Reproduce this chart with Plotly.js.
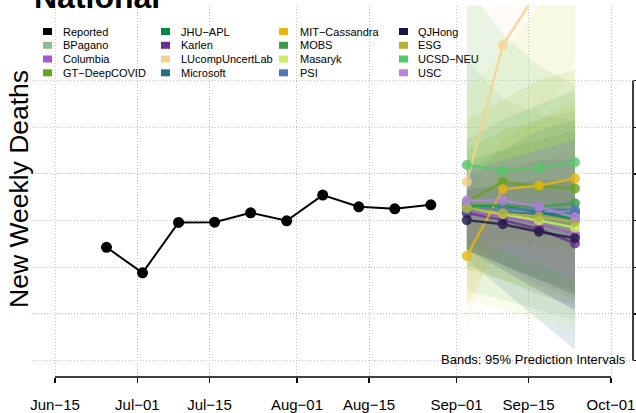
<!DOCTYPE html>
<html><head><meta charset="utf-8">
<script src="https://cdn.plot.ly/plotly-3.0.1.min.js"></script>
<style>html,body{margin:0;padding:0;background:#fff}</style>
</head><body><div id="chart" style="width:636px;height:413px"></div>
<script>
// ---------- DATA ----------
const reportedDates = ['2022-06-25','2022-07-02','2022-07-09','2022-07-16','2022-07-23','2022-07-30','2022-08-06','2022-08-13','2022-08-20','2022-08-27'];
const reportedDeaths = [2428, 1881, 2961, 2967, 3167, 2996, 3546, 3296, 3253, 3338];

const forecastDates = ['2022-09-03','2022-09-10','2022-09-17','2022-09-24'];

const modelNames = ['BPagano','Columbia','GT-DeepCOVID','JHU-APL','Karlen','LUcompUncertLab','Microsoft','MIT-Cassandra','MOBS','Masaryk','PSI','QJHong','ESG','UCSD-NEU','USC'];
const modelColors = ['#8fbc8f','#a855d0','#6aa121','#008a45','#6a2d8f','#f5d08a','#2c6e8a','#e8b80e','#3d9b4b','#c8f060','#4f78b8','#1e1545','#b5b535','#55c968','#b983e0'];

// medians
const medBPagano   = [3290, 3230, 3120, 3180];
const medColumbia  = [3180, 3100, 2930, 2710];
const medGT        = [3400, 3830, 3730, 3690];
const medJHU       = [3310, 3310, 3180, 3030];
const medKarlen    = [3160, 3010, 2820, 2510];
const medLUcomp    = [3830, 6760, 7960, 9010];
const medMicrosoft = [3230, 3180, 3140, 3160];
const medMIT       = [2240, 3670, 3750, 3900];
const medMOBS      = [3330, 3330, 3290, 3370];
const medMasaryk   = [3270, 3140, 3000, 2850];
const medPSI       = [3250, 3240, 3230, 3230];
const medQJHong    = [3010, 2920, 2760, 2620];
const medESG       = [3270, 3160, 3080, 2970];
const medUCSD      = [4190, 4070, 4130, 4250];
const medUSC       = [3430, 3430, 3300, 3070];

// 95% prediction interval bounds
const loBPagano   = [1510, 1300, 1080, 870];   const hiBPagano   = [6440, 5600, 5270, 5160];
const loColumbia  = [2480, 2050, 1620, 1300];  const hiColumbia  = [3870, 4080, 4300, 4510];
const loGT        = [2370, 2580, 2480, 2370];  const hiGT        = [4510, 4940, 5160, 5370];
const loJHU       = [2370, 2050, 1730, 1510];  const hiJHU       = [4300, 4510, 4730, 4940];
const loKarlen    = [2370, 1940, 1510, 1080];  const hiKarlen    = [3980, 4190, 4300, 4300];
const loLUcomp    = [550, 3440, 5160, 6440];   const hiLUcomp    = [12000, 13000, 14000, 15000];
const loMicrosoft = [2160, 1510, 870, 230];    const hiMicrosoft = [4080, 4510, 4940, 5160];
const loMIT       = [1190, 2580, 2370, 2260];  const hiMIT       = [3440, 4730, 5160, 5580];
const loMOBS      = [2050, 1730, 1410, 1190];  const hiMOBS      = [4730, 5160, 5480, 5800];
const loMasaryk   = [1300, 1080, 870, 660];    const hiMasaryk   = [5800, 6600, 7600, 8600];
const loPSI       = [2370, 1940, 1510, 1080];  const hiPSI       = [4080, 4300, 4510, 4730];
const loQJHong    = [2370, 2050, 1730, 1410];  const hiQJHong    = [3660, 3760, 3870, 3870];
const loESG       = [1940, 1730, 1510, 1300];  const hiESG       = [5160, 5580, 6010, 6230];
const loUCSD      = [3120, 2910, 2690, 2480];  const hiUCSD      = [8000, 7000, 6300, 5910];
const loUSC       = [2580, 2370, 2050, 1730];  const hiUSC       = [4080, 4300, 4510, 4730];

const medians = [medBPagano, medColumbia, medGT, medJHU, medKarlen, medLUcomp, medMicrosoft, medMIT, medMOBS, medMasaryk, medPSI, medQJHong, medESG, medUCSD, medUSC];
const lows    = [loBPagano, loColumbia, loGT, loJHU, loKarlen, loLUcomp, loMicrosoft, loMIT, loMOBS, loMasaryk, loPSI, loQJHong, loESG, loUCSD, loUSC];
const highs   = [hiBPagano, hiColumbia, hiGT, hiJHU, hiKarlen, hiLUcomp, hiMicrosoft, hiMIT, hiMOBS, hiMasaryk, hiPSI, hiQJHong, hiESG, hiUCSD, hiUSC];
const bandAlpha = [0.15, 0.15, 0.15, 0.15, 0.15, 0.08, 0.15, 0.12, 0.15, 0.12, 0.15, 0.15, 0.15, 0.12, 0.15];

const tickDates = ['2022-06-15','2022-07-01','2022-07-15','2022-08-01','2022-08-15','2022-09-01','2022-09-15','2022-10-01'];
const tickLabels = ['Jun\u221215','Jul\u221201','Jul\u221215','Aug\u221201','Aug\u221215','Sep\u221201','Sep\u221215','Oct\u221201'];
const yTicks = [0, 1000, 2000, 3000, 4000, 5000, 6000];

// legend layout (column-major)
const legendNames  = ['Reported','BPagano','Columbia','GT\u2212DeepCOVID','JHU\u2212APL','Karlen','LUcompUncertLab','Microsoft','MIT\u2212Cassandra','MOBS','Masaryk','PSI','QJHong','ESG','UCSD\u2212NEU','USC'];
const legendColors = ['#000000','#8fbc8f','#a855d0','#6aa121','#008a45','#6a2d8f','#f5d08a','#2c6e8a','#e8b80e','#3d9b4b','#c8f060','#4f78b8','#1e1545','#b5b535','#55c968','#b983e0'];

// ---------- BUILD ----------
const W = 636, H = 413;
const FONT = 'Liberation Sans, Arial, sans-serif';
const px = p => p / W;
const py = p => 1 - p / H;

function rgba(hex, a) {
  const n = parseInt(hex.slice(1), 16);
  return `rgba(${(n>>16)&255},${(n>>8)&255},${n&255},${a})`;
}

const traces = [];
// bands
modelNames.forEach((m, i) => {
  traces.push({
    x: forecastDates.concat(forecastDates.slice().reverse()),
    y: highs[i].concat(lows[i].slice().reverse()),
    type: 'scatter', mode: 'lines', fill: 'toself',
    fillcolor: rgba(modelColors[i], bandAlpha[i]),
    line: {width: 0}, hoverinfo: 'skip', showlegend: false
  });
});
// forecast lines
modelNames.forEach((m, i) => {
  traces.push({
    x: forecastDates, y: medians[i], type: 'scatter', mode: 'lines+markers',
    line: {color: modelColors[i], width: 2.5},
    marker: {color: modelColors[i], size: 10},
    opacity: 0.8, hoverinfo: 'skip', showlegend: false
  });
});
// reported
traces.push({
  x: reportedDates, y: reportedDeaths, type: 'scatter', mode: 'lines+markers',
  line: {color: '#000', width: 2}, marker: {color: '#000', size: 11},
  hoverinfo: 'skip', showlegend: false
});

const shapes = [
  {type: 'line', xref: 'x', yref: 'paper', x0: tickDates[0], x1: tickDates[tickDates.length-1], y0: py(377), y1: py(377), line: {color: '#000', width: 1.5}},
  {type: 'line', xref: 'paper', yref: 'y', x0: px(633), x1: px(633), y0: yTicks[0], y1: yTicks[yTicks.length-1], line: {color: '#000', width: 1.5}}
];
const annotations = [
  {text: '<b>National</b>', xref: 'paper', yref: 'paper', x: px(33), y: py(-3), xanchor: 'left', yanchor: 'middle', showarrow: false, font: {family: FONT, size: 32, color: '#000'}, borderpad: 0},
  {text: 'New Weekly Deaths', xref: 'paper', yref: 'paper', x: px(19), y: py(189), xanchor: 'center', yanchor: 'middle', textangle: -90, showarrow: false, font: {family: FONT, size: 26.5, color: '#000'}},
  {text: 'Bands: 95% Prediction Intervals', xref: 'paper', yref: 'paper', x: px(628), y: py(359), xanchor: 'right', yanchor: 'middle', showarrow: false, font: {family: FONT, size: 13, color: '#000'}}
];
const colSquareX = [43, 161, 279, 399];
const colTextX = [62, 180, 299, 417];
const rowY = [31.5, 45.3, 59, 72.8];
legendNames.forEach((name, k) => {
  const c = Math.floor(k / 4), r = k % 4;
  shapes.push({type: 'rect', xref: 'paper', yref: 'paper', x0: px(colSquareX[c]), x1: px(colSquareX[c] + 9), y0: py(rowY[r] - 3.5), y1: py(rowY[r] + 3.5), fillcolor: legendColors[k], line: {width: 0}});
  annotations.push({text: name, xref: 'paper', yref: 'paper', x: px(colTextX[c]), y: py(rowY[r]), xanchor: 'left', yanchor: 'middle', showarrow: false, font: {family: FONT, size: 11, color: '#000'}, borderpad: 0});
});

const layout = {
  width: W, height: H,
  margin: {l: 0, r: 0, t: 0, b: 0, pad: 0},
  paper_bgcolor: '#fff', plot_bgcolor: '#fff',
  showlegend: false,
  font: {family: FONT, color: '#000'},
  xaxis: {
    type: 'date', domain: [px(32), px(633)],
    range: ['2022-06-10 12:46', '2022-10-05 06:33'],
    tickmode: 'array', tickvals: tickDates, ticktext: tickLabels,
    ticks: 'outside', ticklen: 5, tickwidth: 1.5, tickcolor: '#000',
    tickfont: {family: FONT, size: 15, color: '#000'},
    ticklabelstandoff: 9,
    showline: false, zeroline: false,
    showgrid: true, gridcolor: '#c4c4c4', gridwidth: 1, griddash: '1px,2px',
    fixedrange: true
  },
  yaxis: {
    domain: [1 - 377/413, 1 - 5.5/413],
    range: [-351.4, 7609.3],
    side: 'right', tickmode: 'array', tickvals: yTicks,
    ticks: 'outside', ticklen: 5, tickwidth: 1.5, tickcolor: '#000',
    showticklabels: false, showline: false, zeroline: false,
    showgrid: true, gridcolor: '#c4c4c4', gridwidth: 1, griddash: '1px,2px',
    fixedrange: true
  },
  shapes: shapes,
  annotations: annotations
};

Plotly.newPlot('chart', traces, layout, {staticPlot: true, displayModeBar: false});
</script></body></html>
